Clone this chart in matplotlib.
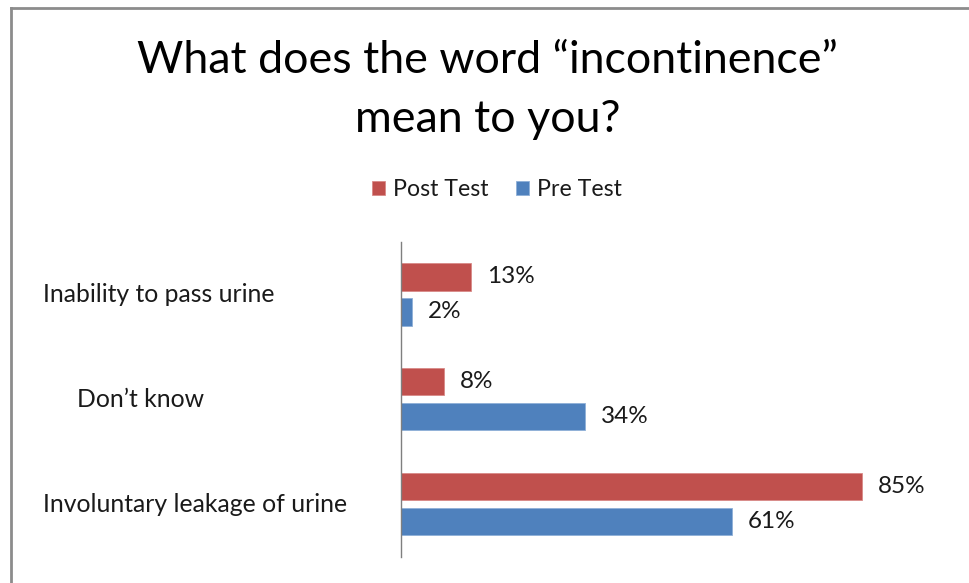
import matplotlib.pyplot as plt
import numpy as np
from matplotlib.transforms import blended_transform_factory

plt.rcParams["font.family"] = ["Lato", "DejaVu Sans"]

categories = ["Inability to pass urine", "Don\u2019t know", "Involuntary leakage of urine"]
post_test = [13, 8, 85]
pre_test = [2, 34, 61]
series_names = ["Post Test", "Pre Test"]

RED = "#C0504D"
BLUE = "#4F81BD"
TEXT = "#1a1a1a"

W, H = 970, 583
fig = plt.figure(figsize=(W / 100, H / 100), dpi=100)

# chart border (top and left only are visible in the crop)
fig.add_artist(plt.Line2D([11 / W, 11 / W], [0, 1 - 8 / H], color="#8c8c8c", lw=2))
fig.add_artist(plt.Line2D([11 / W, 1], [1 - 8 / H, 1 - 8 / H], color="#8c8c8c", lw=2))

ax = fig.add_axes([401 / W, 26.5 / H, 542 / W, 314.5 / H])

y = np.arange(len(categories))
off = 0.167
bh = 0.26
b_post = ax.barh(y - off, post_test, height=bh, color=RED, edgecolor="#d98a88", lw=0.6)
b_pre = ax.barh(y + off, pre_test, height=bh, color=BLUE, edgecolor="#8fb0d8", lw=0.6)

ax.set_xlim(0, 100)
ax.set_ylim(len(categories) - 0.5, -0.5)
for s in ["top", "right", "bottom"]:
    ax.spines[s].set_visible(False)
ax.spines["left"].set_color("#7f7f7f")
ax.spines["left"].set_linewidth(1)
ax.set_xticks([])
ax.set_yticks([])

for bars in (b_post, b_pre):
    for rect in bars:
        v = rect.get_width()
        ax.annotate(f"{v:g}%", (v, rect.get_y() + rect.get_height() / 2),
                    xytext=(16, 0), textcoords="offset pixels",
                    va="center", ha="left", fontsize=17.5, color=TEXT)

trans = blended_transform_factory(fig.transFigure, ax.transData)
label_x = [43, 77, 43]
for i, (cat, lx) in enumerate(zip(categories, label_x)):
    fig.text(lx / W, i, cat, transform=trans, ha="left", va="center",
             fontsize=17.8, color=TEXT)

fig.text(0.503, 1 - 90 / H, "What does the word \u201cincontinence\u201d\nmean to you?",
         ha="center", va="center", multialignment="center",
         fontsize=32.2, color="black", linespacing=1.55)

fig.legend([b_post, b_pre], series_names, loc="center",
           bbox_to_anchor=(497 / W, 1 - 190 / H), ncol=2, frameon=False,
           handlelength=0.55, handleheight=0.55, handletextpad=0.35,
           columnspacing=1.2, fontsize=16.7, labelcolor=TEXT)

fig.savefig("out.png", dpi=100)
